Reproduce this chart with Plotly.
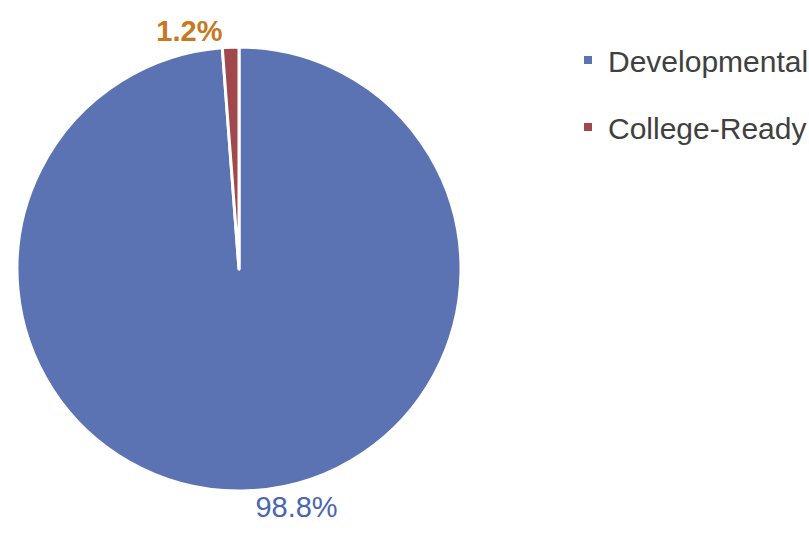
import plotly.graph_objects as go

categories = ["Developmental", "College-Ready"]
values = [98.8, 1.2]
slice_colors = ["#5B73B3", "#A0484B"]
label_colors = ["#4A66B0", "#C8781E"]

W, H = 809, 534
cx, cy, r = 239, 269, 222

fig = go.Figure()
fig.add_trace(go.Pie(
    labels=categories,
    values=values,
    sort=False,
    direction="clockwise",
    rotation=0,
    marker=dict(colors=slice_colors, line=dict(color="white", width=3)),
    textposition="outside",
    texttemplate=["%{value:.1f}%", "<b>%{value:.1f}%</b>"],
    textfont=dict(family="Liberation Sans, Arial, sans-serif", size=29, color=label_colors),
    showlegend=False,
    hoverinfo="label+percent",
    domain=dict(x=[(cx - r) / W, (cx + r) / W], y=[1 - (cy + r) / H, 1 - (cy - r) / H]),
    automargin=False,
))

for i, (name, col) in enumerate(zip(categories, slice_colors)):
    fig.add_trace(go.Scatter(
        x=[None], y=[None], mode="markers", name=name,
        marker=dict(symbol="square", size=8, color=col),
        legendgroup=f"g{i}", hoverinfo="skip",
    ))

fig.update_layout(
    width=W, height=H,
    margin=dict(l=0, r=0, t=0, b=0, autoexpand=False),
    paper_bgcolor="white", plot_bgcolor="white",
    xaxis=dict(visible=False), yaxis=dict(visible=False),
    legend=dict(
        x=568 / W, xanchor="left", y=1 - 34 / H, yanchor="top",
        font=dict(family="Liberation Sans, Arial, sans-serif", size=30, color="#404040"),
        tracegroupgap=25, bgcolor="rgba(0,0,0,0)",
    ),
)

fig.write_html("out.html")
